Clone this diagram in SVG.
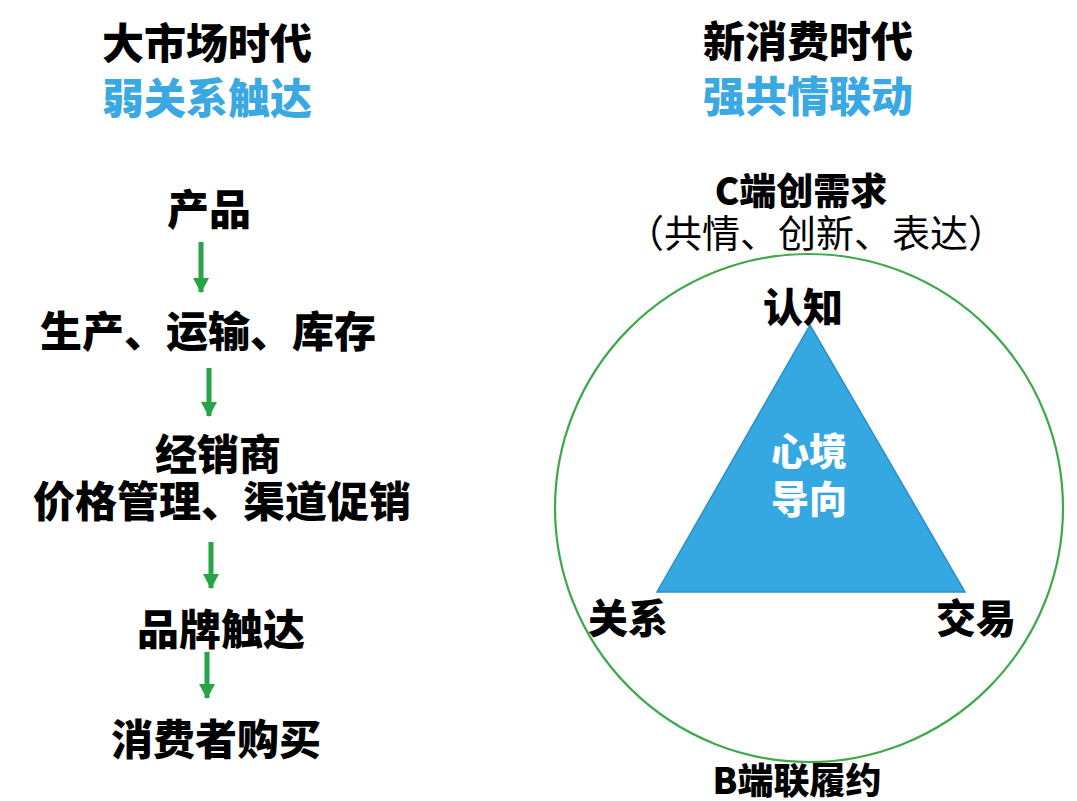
<svg xmlns="http://www.w3.org/2000/svg" width="1077" height="801" viewBox="0 0 1077 801">
  <style>
    .t { font-family: "Noto Sans CJK SC", "Noto Sans", sans-serif; font-weight: 900; fill: #000; text-anchor: middle; }
    .b { fill: #3AA8E2; }
    .w { fill: #ffffff; }
    .r { font-weight: 400; }
    .arrow { stroke: #28A345; stroke-width: 5; fill: none; }
  </style>
  <defs>
    <marker id="ah" markerUnits="userSpaceOnUse" markerWidth="18" markerHeight="16" refX="14" refY="8" orient="auto">
      <path d="M0,0 L15,8 L0,16 Z" fill="#28A345"/>
    </marker>
  </defs>
  <rect width="1077" height="801" fill="#ffffff"/>

  <g id="title-left">
    <text class="t" x="207" y="59" font-size="42">大市场时代</text>
    <text class="t b" x="207" y="114" font-size="42">弱关系触达</text>
  </g>
  <g id="title-right">
    <text class="t" x="808" y="57" font-size="42">新消费时代</text>
    <text class="t b" x="808" y="112" font-size="42">强共情联动</text>
  </g>

  <g id="n-product"><text class="t" x="209" y="225" font-size="42">产品</text></g>
  <g id="n-production"><text class="t" x="208" y="347" font-size="42">生产、运输、库存</text></g>
  <g id="n-dealer">
    <text class="t" x="218" y="470" font-size="42">经销商</text>
    <text class="t" x="222" y="517" font-size="42">价格管理、渠道促销</text>
  </g>
  <g id="n-brand"><text class="t" x="221" y="645" font-size="42">品牌触达</text></g>
  <g id="n-consumer"><text class="t" x="216" y="755" font-size="42">消费者购买</text></g>

  <g id="connectors">
    <line class="arrow" x1="201" y1="242" x2="201" y2="292" marker-end="url(#ah)"/>
    <line class="arrow" x1="209" y1="368" x2="209" y2="416" marker-end="url(#ah)"/>
    <line class="arrow" x1="211" y1="542" x2="211" y2="588" marker-end="url(#ah)"/>
    <line class="arrow" x1="207" y1="652" x2="207" y2="698" marker-end="url(#ah)"/>
  </g>

  <g id="c-demand">
    <text class="t" x="801" y="205" font-size="37">C端创需求</text>
    <text class="t r" x="816" y="247" font-size="38">（共情、创新、表达）</text>
  </g>

  <g id="circle">
    <circle cx="809" cy="508" r="254" fill="none" stroke="#3DAA4A" stroke-width="2.2"/>
  </g>

  <g id="triangle">
    <polygon points="810,325 657,592 965,592" fill="#35A8E2" stroke="#2B8FC6" stroke-width="1.5"/>
    <text class="t w" x="809" y="465" font-size="38">心境</text>
    <text class="t w" x="809" y="513" font-size="38">导向</text>
  </g>

  <g id="n-cognition"><text class="t" x="803" y="322" font-size="40">认知</text></g>
  <g id="n-relation"><text class="t" x="628" y="633" font-size="40">关系</text></g>
  <g id="n-trade"><text class="t" x="976" y="633" font-size="40">交易</text></g>
  <g id="b-fulfil"><text class="t" x="797" y="794" font-size="36">B端联履约</text></g>
</svg>
